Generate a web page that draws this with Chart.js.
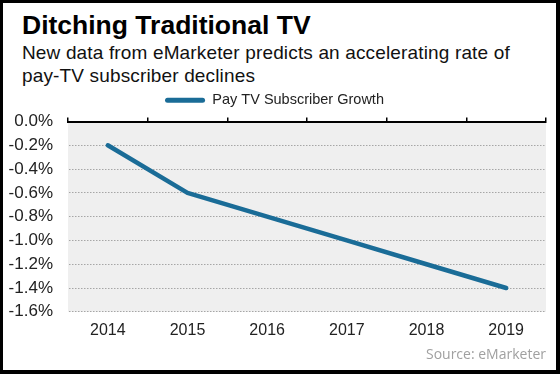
<!DOCTYPE html>
<html>
<head>
<meta charset="utf-8">
<script src="https://cdn.jsdelivr.net/npm/chart.js@4"></script>
<style>
  html, body { margin: 0; padding: 0; background: #fff; }
  #frame {
    position: relative; width: 560px; height: 374px; box-sizing: border-box;
    border-style: solid; border-color: #000; border-width: 3px 4px 4px 3px;
    overflow: hidden; font-family: "Liberation Sans", Arial, sans-serif;
  }
  #title { position: absolute; left: 19px; top: 7px; font-size: 26.5px; font-weight: bold; color: #000; }
  #subtitle { position: absolute; left: 19px; top: 38px; font-size: 19px; letter-spacing: 0.15px; line-height: 23px; color: #111; width: 525px; }
  #source { position: absolute; right: 10px; top: 341px; font-family: "Open Sans", sans-serif; font-size: 14px; color: #a0a0a0; }
  #wrap { position: absolute; left: 0; top: 81px; width: 553px; height: 271px; }
</style>
</head>
<body>
<div id="frame">
  <div id="title">Ditching Traditional TV</div>
  <div id="subtitle">New data from eMarketer predicts an accelerating rate of pay-TV subscriber declines</div>
  <div id="wrap"><canvas id="chart"></canvas></div>
  <div id="source">Source: eMarketer</div>
</div>
<script>
// --- データ ---
const years = ['2014', '2015', '2016', '2017', '2018', '2019'];
const growth = [-0.2, -0.6, -0.8, -1.0, -1.2, -1.4];
const seriesName = 'Pay TV Subscriber Growth';

const lineColor = '#1a6c97';
const font = '"Liberation Sans", Arial, sans-serif';

// プロット領域の灰色背景
const plotBg = {
    id: 'plotBg',
    beforeDraw(chart) {
        const { ctx, chartArea: a } = chart;
        ctx.save();
        ctx.fillStyle = '#efefef';
        ctx.fillRect(a.left, a.top, a.right - a.left, a.bottom - a.top);
        ctx.restore();
    }
};

new Chart(document.getElementById('chart').getContext('2d'), {
    type: 'line',
    data: {
        labels: years,
        datasets: [{
            label: seriesName,
            data: growth,
            borderColor: lineColor,
            backgroundColor: lineColor,
            borderWidth: 4.5,
            borderCapStyle: 'round',
            borderJoinStyle: 'round',
            pointRadius: 0,
            tension: 0,
            xAxisID: 'x'
        }]
    },
    options: {
        responsive: true,
        maintainAspectRatio: false,
        animation: false,
        layout: { padding: { top: 1, right: 10, left: 0, bottom: 6 } },
        plugins: {
            legend: {
                position: 'top',
                labels: {
                    color: '#222',
                    font: { family: font, size: 14.5 },
                    boxWidth: 40,
                    boxHeight: 5,
                    padding: 8,
                    useBorderRadius: true,
                    borderRadius: 2.5,
                    generateLabels(chart) {
                        const items = Chart.defaults.plugins.legend.labels.generateLabels(chart);
                        items.forEach(it => { it.lineWidth = 0; it.fillStyle = lineColor; });
                        return items;
                    }
                }
            },
            tooltip: { enabled: false }
        },
        scales: {
            x: {
                position: 'bottom',
                offset: true,
                grid: { display: false, drawTicks: false },
                border: { display: false },
                ticks: {
                    color: '#222',
                    padding: 9,
                    font: { family: font, size: 16 }
                }
            },
            xTop: {
                type: 'category',
                labels: years,
                position: 'top',
                offset: true,
                grid: { offset: true, drawOnChartArea: false, tickLength: 4, color: '#000', lineWidth: 1.5 },
                border: { display: true, color: '#000', width: 2 },
                ticks: { display: false }
            },
            y: {
                min: -1.6,
                max: 0,
                afterFit(s) { s.width = 65; },
                grid: {
                    drawTicks: false,
                    color: c => (c.tick && c.tick.value === 0) ? 'rgba(0,0,0,0)' : '#a6a6a6',
                    lineWidth: 1
                },
                border: { display: true, color: 'rgba(0,0,0,0)', dash: [1.5, 1.5] },
                ticks: {
                    stepSize: 0.2,
                    autoSkip: false,
                    padding: 15,
                    color: '#222',
                    font: { family: font, size: 17 },
                    callback: v => v.toFixed(1) + '%'
                }
            }
        }
    },
    plugins: [plotBg]
});
</script>
</body>
</html>
